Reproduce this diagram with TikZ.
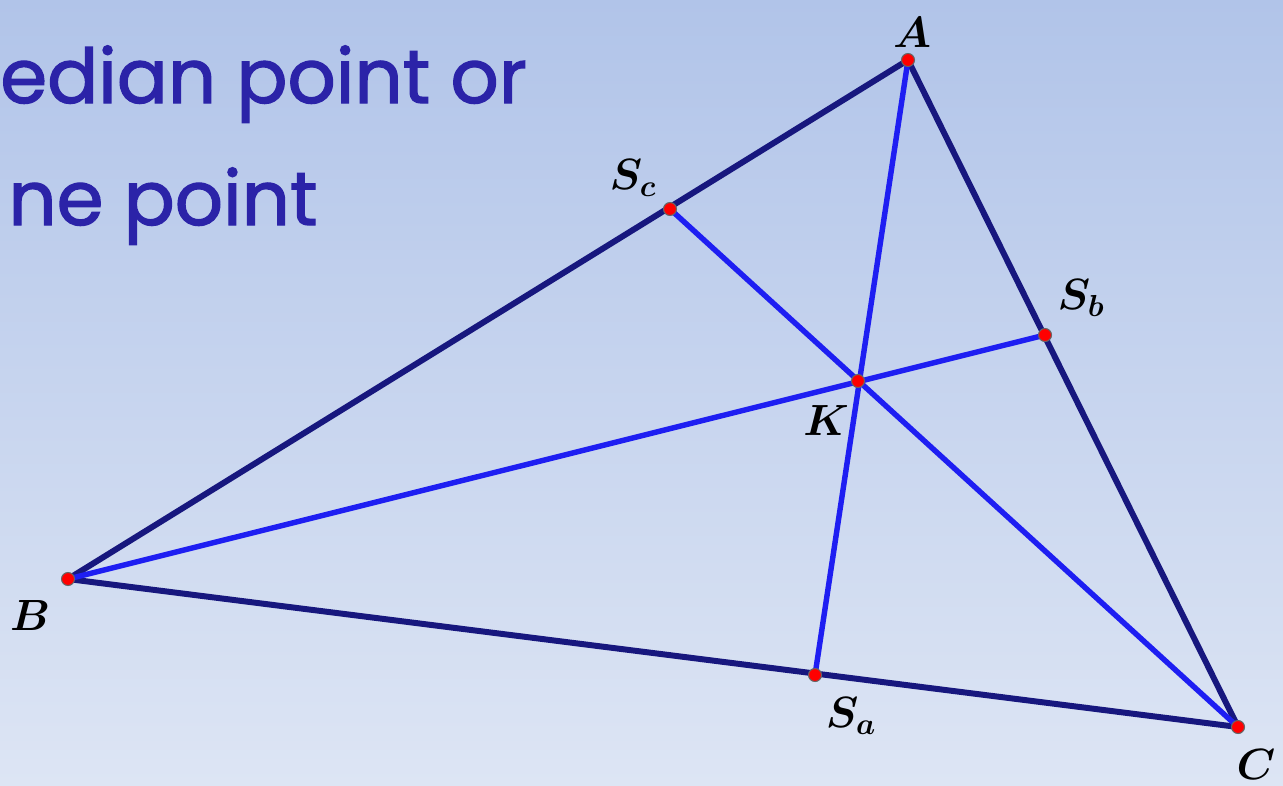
\documentclass[tikz,border=0pt]{standalone}
\usepackage{fontspec}
\usepackage{xcolor}
\newfontfamily\slidefont[FakeBold=1.6]{Poppins}
\usetikzlibrary{positioning}

\definecolor{bgtop}{HTML}{B1C4E9}
\definecolor{bgbot}{HTML}{DDE5F4}
\definecolor{sidecol}{HTML}{17177E}
\definecolor{cevcol}{HTML}{1E1EF2}
\definecolor{titlecol}{HTML}{2B23A8}

\begin{document}
\begin{tikzpicture}[
    x=0.02cm, y=-0.02cm,
    side/.style={line width=3.4pt, draw=sidecol},
    cevian/.style={line width=3.1pt, draw=cevcol},
    dot/.style={circle, fill=red, draw=black!60, line width=0.6pt,
        inner sep=0pt, minimum size=0.26cm},
    lbl/.style={font=\fontsize{24}{27}\selectfont\boldmath, text=black},
    title/.style={font=\slidefont\fontsize{43}{50}\selectfont, text=titlecol,
        anchor=base west, inner sep=0pt}
]
    % background
    \shade[top color=bgtop, bottom color=bgbot] (0,0) rectangle (1283,785);
    \useasboundingbox (0,0) rectangle (1283,785);

    % heading (cut at the left edge)
    \node[title] (line1) at (0,103) {edian point or};
    \node[title] (line2) at (8,225) {ne point};

    % vertices, feet and the point K
    \coordinate (A) at (908,60);
    \coordinate (B) at (68,579);
    \coordinate (C) at (1238,727);
    \coordinate (Sa) at (815,675);
    \coordinate (Sb) at (1045,335);
    \coordinate (Sc) at (670,209);
    \coordinate (K) at (858,381);

    % sides
    \draw[side] (A) -- (B);
    \draw[side] (B) -- (C);
    \draw[side] (C) -- (A);

    % symmedians
    \draw[cevian] (A) -- (Sa);
    \draw[cevian] (B) -- (Sb);
    \draw[cevian] (C) -- (Sc);

    \foreach \p in {A,B,C,Sa,Sb,Sc,K}
        \node[dot] (d\p) at (\p) {};

    % labels
    \node[lbl] (labA) at (912,32) {$A$};
    \node[lbl] (labB) at (30,615) {$B$};
    \node[lbl] (labC) at (1256,764) {$C$};
    \node[lbl] (labSa) at (851,716) {$S_a$};
    \node[lbl] (labSb) at (1081,298) {$S_b$};
    \node[lbl] (labSc) at (633,178) {$S_c$};
    \node[lbl] (labK) at (826,420) {$K$};
\end{tikzpicture}
\end{document}
